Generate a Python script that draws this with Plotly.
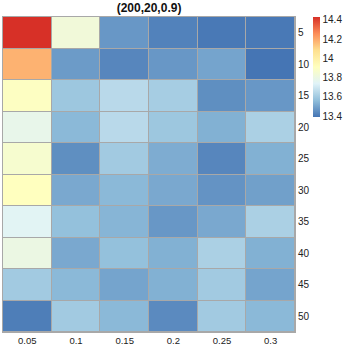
import plotly.graph_objects as go

# colonne (x) e righe (y) della heatmap
x_labels = ['0.05', '0.1', '0.15', '0.2', '0.25', '0.3']
y_labels = ['5', '10', '15', '20', '25', '30', '35', '40', '45', '50']

# valori, una lista per riga
r5 = [14.43, 13.83, 13.47, 13.42, 13.40, 13.40]
r10 = [14.18, 13.48, 13.43, 13.47, 13.50, 13.39]
r15 = [13.90, 13.59, 13.65, 13.61, 13.45, 13.47]
r20 = [13.78, 13.55, 13.65, 13.59, 13.53, 13.62]
r25 = [13.86, 13.45, 13.60, 13.52, 13.43, 13.53]
r30 = [13.91, 13.51, 13.55, 13.51, 13.46, 13.49]
r35 = [13.75, 13.57, 13.54, 13.47, 13.51, 13.62]
r40 = [13.80, 13.51, 13.57, 13.53, 13.62, 13.53]
r45 = [13.60, 13.55, 13.50, 13.53, 13.60, 13.50]
r50 = [13.41, 13.60, 13.55, 13.44, 13.60, 13.55]

z = [r5, r10, r15, r20, r25, r30, r35, r40, r45, r50]

# palette RdYlBu invertita (come pheatmap)
scala = [[0.0, '#4575B4'], [1/6, '#91BFDB'], [2/6, '#E0F3F8'], [3/6, '#FFFFBF'],
         [4/6, '#FEE090'], [5/6, '#FC8D59'], [1.0, '#D73027']]

fig = go.Figure(go.Heatmap(
    z=z, x=x_labels, y=y_labels,
    colorscale=scala, zmin=13.39, zmax=14.43,
    xgap=1, ygap=1,
    colorbar=dict(
        x=1.062, xanchor='left', xpad=0,
        y=1, yanchor='top', ypad=0,
        len=100, lenmode='pixels', thickness=7,
        outlinewidth=0, ticks='', ticklabelposition='outside',
        ticklabeloverflow='allow',
        tickvals=[13.4, 13.6, 13.8, 14.0, 14.2, 14.4],
        ticktext=['13.4', '13.6', '13.8', '14', '14.2', '14.4'],
        tickfont=dict(size=10, color='#222')
    )
))

fig.update_layout(
    width=345, height=345,
    margin=dict(l=3, r=50, t=17, b=13, autoexpand=False),
    paper_bgcolor='white', plot_bgcolor='#a8a8a8',
    font=dict(family='Liberation Sans, Arial, sans-serif', size=10, color='#222'),
    title=dict(text='<b>(200,20,0.9)</b>', x=0.432, xanchor='center',
               y=0.99, yanchor='top', font=dict(size=12, color='#111')),
)

fig.update_xaxes(showgrid=False, zeroline=False, ticks='', showline=True, mirror=True,
                 linecolor='#a8a8a8', linewidth=1, tickfont=dict(size=9.5),
                 automargin=False, ticklabelstandoff=0)
fig.update_yaxes(showgrid=False, zeroline=False, ticks='', side='right', autorange='reversed',
                 showline=True, mirror=True, linecolor='#a8a8a8', linewidth=1,
                 tickfont=dict(size=10), automargin=False)

# tolgo il margine di default del body e la modebar
fig.write_html("out.html", config={'displayModeBar': False},
               post_script="document.body.style.margin='0';")
